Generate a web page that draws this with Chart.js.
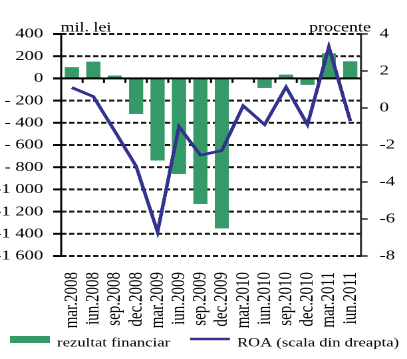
<!DOCTYPE html>
<html><head><meta charset="utf-8">
<script src="https://cdn.jsdelivr.net/npm/chart.js@4"></script>
<style>
html,body{margin:0;padding:0;background:#fff;overflow:hidden}
#wrap{position:absolute;left:0;top:0;width:306px;height:359px;transform:scaleX(1.3301);transform-origin:0 0}
</style></head><body>
<div id="wrap"><canvas id="c"></canvas></div>
<script>
const categories = ['mar.2008','iun.2008','sep.2008','dec.2008','mar.2009','iun.2009','sep.2009','dec.2009','mar.2010','iun.2010','sep.2010','dec.2010','mar.2011','iun.2011'];
const financialResult = [100, 150, 25, -320, -740, -860, -1130, -1350, 0, -85, 33, -57, 225, 153];
const roa = [1.1, 0.62, -1.25, -3.15, -6.7, -1.0, -2.55, -2.3, 0.12, -0.9, 1.13, -0.9, 3.3, -0.7];
const leftTickValues = [400, 200, 0, -200, -400, -600, -800, -1000, -1200, -1400, -1600];
const leftTickLabels = ['400', '200', '0', '- 200', '- 400', '- 600', '- 800', '-1 000', '-1 200', '-1 400', '-1 600'];
const rightTickValues = [4, 2, 0, -2, -4, -6, -8];
const rightTickLabels = ['4', '2', '0', '-2', '-4', '-6', '-8'];
const leftTitle = 'mil. lei';
const rightTitle = 'procente';
const seriesNames = ['rezultat financiar', 'ROA (scala din dreapta)'];

const FONT = "'Liberation Serif', 'Times New Roman', serif";
const GREEN = '#359a68';
const NAVY = '#33338f';

function hline(ctx, x1, x2, y, w) { ctx.fillRect(x1, y - w / 2, x2 - x1, w); }
function vline(ctx, x, y1, y2, w) { ctx.fillRect(x - w / 2, y1, w, y2 - y1); }
function dashedH(ctx, x1, x2, y, w, on, off) {
  for (let x = x1; x < x2; x += on + off) hline(ctx, x, Math.min(x + on, x2), y, w);
}

const frame = {
  id: 'frame',
  afterDraw(chart) {
    const ctx = chart.ctx, a = chart.chartArea;
    const x = chart.scales.x, y = chart.scales.y, y2 = chart.scales.y2;
    ctx.save();
    ctx.fillStyle = '#1a1a1a';
    leftTickValues.forEach(v => {
      const p = y.getPixelForValue(v);
      if (v !== 0) dashedH(ctx, a.left, a.right, p, 2, 4, 2);
    });
    ctx.fillStyle = 'rgba(0,0,0,0.99)';
    leftTickValues.forEach(v => { const p = y.getPixelForValue(v); hline(ctx, a.left - 6, a.left, p, 2); });
    vline(ctx, a.left, a.top - 1, a.bottom + 1, 1.5);
    ctx.fillStyle = '#2a2a2a';
    rightTickValues.forEach(v => { const p = y2.getPixelForValue(v); hline(ctx, a.right, a.right + 5, p, 1.5); });
    vline(ctx, a.right, a.top - 1, a.bottom + 1, 1.5);
    ctx.restore();
    [1, 0].forEach(i => { const m = chart.getDatasetMeta(i); if (m && m.controller) m.controller.draw(); });
    ctx.save();
    ctx.fillStyle = '#000';
    const z = y.getPixelForValue(0);
    hline(ctx, a.left - 6, a.right, z, 2);
    const half = (x.getPixelForValue(1) - x.getPixelForValue(0)) / 2;
    for (let i = 0; i < categories.length - 1; i++) {
      vline(ctx, x.getPixelForValue(i) + half, z, z + 4.5, 1.5);
    }
    const lm = chart.getDatasetMeta(0); if (lm && lm.controller) lm.controller.draw();
    ctx.fillStyle = '#000';
    ctx.font = '13.5px ' + FONT;
    ctx.textBaseline = 'alphabetic';
    ctx.textAlign = 'left';
    ctx.fillText(leftTitle, a.left - 0.5, a.top - 2.5);
    ctx.textAlign = 'right';
    ctx.fillText(rightTitle, a.right + 7.5, a.top - 2.5);
    const ly = 339;
    ctx.fillStyle = chart.data.datasets[1].backgroundColor;
    ctx.fillRect(7.5, ly - 3, 30, 7);
    ctx.fillStyle = chart.data.datasets[0].borderColor;
    hline(ctx, 142.9, 172.9, ly, 2.5);
    ctx.fillStyle = '#000';
    ctx.font = '12.5px ' + FONT;
    ctx.textAlign = 'left';
    ctx.fillText(seriesNames[0], 42.9, ly + 7.5);
    ctx.fillText(seriesNames[1], 178.2, ly + 7.5);
    ctx.restore();
  }
};

new Chart(document.getElementById('c'), {
  data: {
    labels: categories,
    datasets: [
      { type: 'line', label: seriesNames[1], data: roa, yAxisID: 'y2', xAxisID: 'x',
        borderColor: NAVY, backgroundColor: NAVY, borderWidth: 2.5, pointRadius: 0, tension: 0, order: 0 },
      { type: 'bar', label: seriesNames[0], data: financialResult, yAxisID: 'y', xAxisID: 'x',
        backgroundColor: GREEN, borderWidth: 0, barPercentage: 0.65, categoryPercentage: 1, order: 1 }
    ]
  },
  plugins: [frame],
  options: {
    responsive: true, maintainAspectRatio: false, animation: false, devicePixelRatio: 2,
    layout: { padding: { top: 34, bottom: 23, left: 0, right: 0 } },
    plugins: { legend: { display: false }, tooltip: { enabled: false } },
    scales: {
      x: {
        type: 'category', position: 'bottom', offset: true,
        grid: { display: false, drawTicks: false, tickLength: 0 },
        border: { display: false },
        ticks: { color: '#000', font: { family: FONT, size: 15 }, minRotation: 90, maxRotation: 90, autoSkip: false, padding: 16 },
        afterFit(s) { s.height = 80; }
      },
      y: {
        type: 'linear', position: 'left', min: -1600, max: 400,
        afterBuildTicks(s) { s.ticks = leftTickValues.map(v => ({ value: v })); },
        ticks: { color: '#000', font: { family: FONT, size: 14 }, padding: 13.5,
          callback: (v) => leftTickLabels[leftTickValues.indexOf(v)] },
        grid: { display: false, drawTicks: false },
        border: { display: false },
        afterFit(s) { s.width = 46; }
      },
      y2: {
        type: 'linear', position: 'right', min: -8, max: 4,
        afterBuildTicks(s) { s.ticks = rightTickValues.map(v => ({ value: v })); },
        ticks: { color: '#000', font: { family: FONT, size: 14 }, padding: 14,
          callback: (v) => rightTickLabels[rightTickValues.indexOf(v)] },
        grid: { display: false, drawTicks: false },
        border: { display: false },
        afterFit(s) { s.width = 34.6; }
      }
    }
  }
});
</script>
</body></html>
